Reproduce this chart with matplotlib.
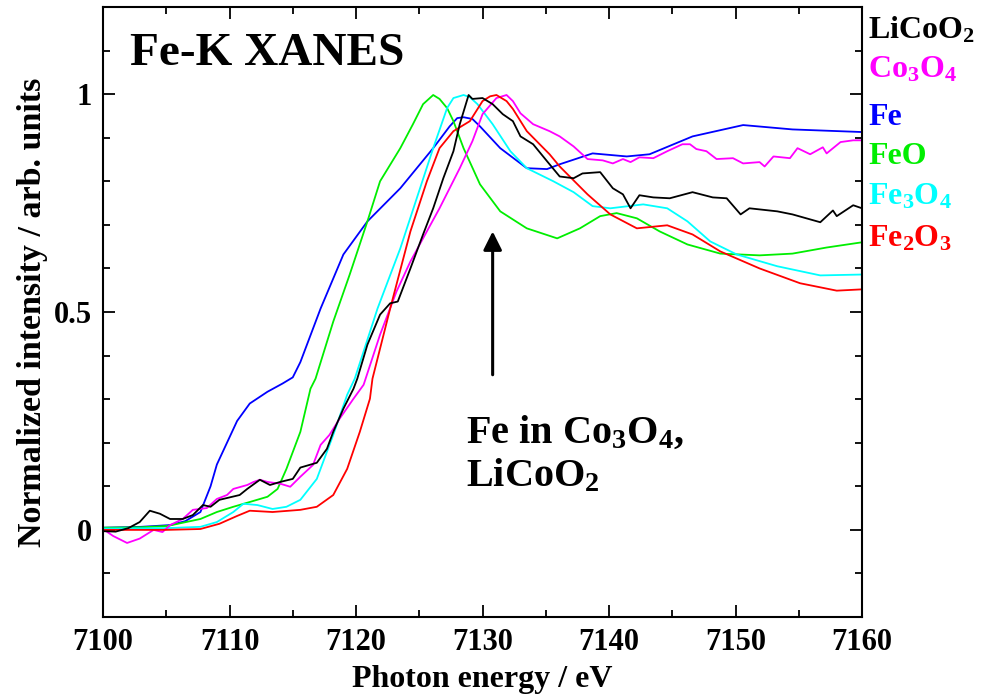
import numpy as np
import matplotlib
matplotlib.use("Agg")
import matplotlib.pyplot as plt

plt.rcParams['font.family'] = ['Liberation Serif', 'DejaVu Serif']
plt.rcParams['font.weight'] = 'bold'
plt.rcParams['axes.labelweight'] = 'bold'
plt.rcParams['mathtext.default'] = 'regular'

# photon energy (eV) / normalized intensity
e_licoo2 = [7100, 7101, 7102, 7102.9, 7103.7, 7104.5, 7105.3, 7106.3, 7107.1, 7107.9, 7108.5,
            7109.2, 7110.8, 7111.4, 7112.4, 7113.2, 7114.0, 7115.0, 7115.6, 7116.9, 7117.7,
            7118.2, 7119.0, 7119.8, 7120.1, 7120.9, 7121.9, 7122.7, 7123.3, 7124.3, 7125.3,
            7126.1, 7126.9, 7127.7, 7128.2, 7128.9, 7129.2, 7130.0, 7130.8, 7131.6, 7132.4,
            7133.0, 7134.0, 7135.1, 7136.1, 7137.2, 7137.9, 7139.3, 7140.3, 7141.1, 7141.7,
            7142.4, 7143.5, 7144.8, 7146.6, 7148.2, 7149.3, 7150.4, 7151.1, 7153.3, 7154.5,
            7156.7, 7157.7, 7158.0, 7159.3, 7160]
i_licoo2 = [-0.003, -0.004, 0.004, 0.018, 0.044, 0.037, 0.025, 0.025, 0.034, 0.057, 0.053,
            0.069, 0.080, 0.094, 0.115, 0.103, 0.110, 0.117, 0.143, 0.154, 0.186,
            0.225, 0.278, 0.324, 0.347, 0.425, 0.494, 0.520, 0.524, 0.600, 0.678,
            0.738, 0.807, 0.869, 0.931, 0.998, 0.989, 0.991, 0.977, 0.954, 0.938,
            0.903, 0.885, 0.846, 0.811, 0.807, 0.818, 0.821, 0.784, 0.770, 0.738,
            0.768, 0.763, 0.761, 0.775, 0.763, 0.761, 0.724, 0.738, 0.731, 0.724,
            0.706, 0.733, 0.720, 0.745, 0.738]

e_co3o4 = [7100, 7100.8, 7101.9, 7102.9, 7104.0, 7104.7, 7105.3, 7106.3, 7107.1, 7108.2, 7109.0,
           7109.8, 7110.3, 7111.4, 7111.9, 7112.4, 7113.0, 7114.0, 7114.8, 7115.6, 7116.6,
           7117.2, 7117.9, 7118.7, 7119.8, 7120.6, 7121.9, 7123.2, 7124.3, 7125.6, 7126.6,
           7127.4, 7128.2, 7129.2, 7130.0, 7131.1, 7131.9, 7132.4, 7133.0, 7134.0, 7135.3,
           7136.1, 7137.2, 7138.3, 7139.5, 7140.3, 7141.1, 7141.7, 7142.4, 7143.5, 7144.6,
           7145.8, 7146.4, 7146.9, 7147.7, 7148.5, 7149.8, 7150.6, 7151.9, 7152.3, 7153.0,
           7154.3, 7154.9, 7155.9, 7156.9, 7157.2, 7158.3, 7159.3, 7160]
i_co3o4 = [0.002, -0.014, -0.030, -0.020, 0.000, -0.005, 0.011, 0.025, 0.046, 0.050, 0.071,
           0.080, 0.094, 0.103, 0.110, 0.115, 0.110, 0.106, 0.099, 0.122, 0.149,
           0.195, 0.218, 0.255, 0.301, 0.333, 0.448, 0.547, 0.616, 0.685, 0.738,
           0.784, 0.830, 0.892, 0.954, 0.991, 0.998, 0.984, 0.956, 0.931, 0.915,
           0.903, 0.880, 0.851, 0.848, 0.841, 0.851, 0.844, 0.855, 0.853, 0.869,
           0.885, 0.885, 0.874, 0.869, 0.851, 0.853, 0.841, 0.844, 0.834, 0.857,
           0.853, 0.876, 0.862, 0.878, 0.864, 0.890, 0.894, 0.894]

e_fe = [7100, 7103, 7105.3, 7106.5, 7107.7, 7108.5, 7109.0, 7109.8, 7110.6, 7111.6, 7113.0,
        7114.2, 7115.0, 7115.6, 7117.2, 7119.0, 7120.9, 7123.5, 7126.1, 7127.4, 7128.0,
        7128.5, 7129.2, 7129.8, 7131.4, 7133.5, 7135.1, 7136.1, 7138.7, 7141.4, 7143.2,
        7146.6, 7150.6, 7154.5, 7160]
i_fe = [0.005, 0.007, 0.011, 0.020, 0.041, 0.100, 0.150, 0.200, 0.250, 0.290, 0.317,
        0.336, 0.350, 0.385, 0.508, 0.632, 0.708, 0.784, 0.876, 0.926, 0.945,
        0.947, 0.943, 0.926, 0.876, 0.830, 0.828, 0.839, 0.864, 0.857, 0.862,
        0.903, 0.929, 0.919, 0.913]

e_feo = [7100, 7103, 7105.1, 7107.7, 7109.0, 7110.3, 7111.6, 7113.0, 7113.8, 7114.5, 7115.6,
         7116.4, 7116.8, 7118.2, 7119.5, 7120.9, 7121.9, 7123.5, 7124.5, 7125.3, 7126.1,
         7126.6, 7127.2, 7127.7, 7128.5, 7129.8, 7131.4, 7133.5, 7135.9, 7137.7, 7139.3,
         7140.6, 7142.2, 7144.0, 7146.2, 7148.8, 7151.9, 7154.5, 7157.2, 7160]
i_feo = [0.005, 0.006, 0.009, 0.025, 0.041, 0.053, 0.064, 0.076, 0.094, 0.140, 0.225,
         0.324, 0.347, 0.478, 0.586, 0.708, 0.800, 0.876, 0.931, 0.977, 0.998,
         0.989, 0.968, 0.938, 0.876, 0.793, 0.731, 0.692, 0.669, 0.692, 0.720,
         0.727, 0.715, 0.685, 0.655, 0.634, 0.630, 0.634, 0.648, 0.660]

e_fe3o4 = [7100, 7105, 7107.7, 7109.0, 7110.3, 7111.1, 7112.2, 7113.4, 7114.5, 7115.6, 7116.9,
           7118.2, 7119.3, 7119.9, 7121.7, 7123.5, 7124.8, 7126.1, 7127.2, 7127.7, 7128.5,
           7129.0, 7129.6, 7130.8, 7132.2, 7133.5, 7135.6, 7137.2, 7138.7, 7140.1, 7142.7,
           7144.6, 7146.2, 7148.0, 7150.1, 7153.3, 7156.7, 7160]
i_fe3o4 = [0.003, 0.004, 0.007, 0.018, 0.041, 0.060, 0.057, 0.048, 0.053, 0.069, 0.117,
           0.218, 0.310, 0.347, 0.508, 0.646, 0.761, 0.876, 0.968, 0.991, 0.998,
           0.993, 0.977, 0.931, 0.869, 0.830, 0.800, 0.775, 0.743, 0.738, 0.747,
           0.738, 0.708, 0.662, 0.632, 0.605, 0.584, 0.586]

e_fe2o3 = [7100, 7105, 7107.7, 7109.2, 7110.6, 7111.6, 7113.4, 7115.6, 7116.9, 7118.2, 7119.3,
           7120.3, 7121.1, 7121.3, 7122.7, 7124.3, 7125.6, 7126.6, 7127.7, 7129.0, 7130.0,
           7130.6, 7131.1, 7131.9, 7132.4, 7133.5, 7135.3, 7136.1, 7138.3, 7140.1, 7142.2,
           7144.6, 7146.6, 7148.8, 7151.9, 7155.1, 7158.0, 7160]
i_fe2o3 = [0.000, 0.000, 0.002, 0.014, 0.032, 0.044, 0.041, 0.046, 0.053, 0.080, 0.140,
           0.225, 0.301, 0.347, 0.508, 0.685, 0.800, 0.876, 0.915, 0.938, 0.984,
           0.995, 0.998, 0.984, 0.966, 0.915, 0.862, 0.834, 0.770, 0.724, 0.692,
           0.699, 0.678, 0.639, 0.600, 0.566, 0.549, 0.552]

names = [r'LiCoO$_2$', r'Co$_3$O$_4$', 'Fe', 'FeO', r'Fe$_3$O$_4$', r'Fe$_2$O$_3$']
colors = ['black', '#ff00ff', '#0000ff', '#00ee00', '#00ffff', '#ff0000']

fig = plt.figure(figsize=(10.08, 6.98), dpi=100)
ax = fig.add_axes([0.1022, 0.116, 0.753, 0.874])

curves = [(e_licoo2, i_licoo2), (e_co3o4, i_co3o4), (e_fe, i_fe),
          (e_feo, i_feo), (e_fe3o4, i_fe3o4), (e_fe2o3, i_fe2o3)]
# draw order so black/red sit on top like the original
for k in [2, 3, 4, 1, 5, 0]:
    e, i = curves[k]
    ax.plot(e, i, color=colors[k], lw=1.3)

ax.set_xlim(7100, 7160)
ax.set_ylim(-0.2, 1.2)
ax.set_xticks(np.arange(7100, 7161, 10))
ax.set_xticks(np.arange(7105, 7160, 10), minor=True)
ax.set_yticks([0, 0.5, 1])
ax.set_yticklabels(['0', '0.5', '1'])
ax.set_yticks(np.arange(-0.1, 1.15, 0.1), minor=True)
ax.tick_params(which='both', direction='in', top=True, right=True, width=1.3)
ax.tick_params(which='major', length=8.5, labelsize=22, pad=8)
ax.tick_params(which='minor', length=5)
for s in ax.spines.values():
    s.set_linewidth(1.5)

ax.set_xlabel('Photon energy / eV', fontsize=23, fontweight='bold', labelpad=6)
ax.set_ylabel('Normalized intensity / arb. units', fontsize=24.5, fontweight='bold', labelpad=4)

ax.text(0.036, 0.905, 'Fe-K XANES', transform=ax.transAxes, fontsize=34,
        fontweight='bold', va='baseline')

# legend-like labels to the right of the frame
label_y = [0.948, 0.884, 0.807, 0.743, 0.677, 0.607]
for name, c, y in zip(names, colors, label_y):
    ax.text(1.008, y, name, transform=ax.transAxes, color=c, fontsize=23,
            fontweight='bold', va='baseline', clip_on=False)

ax.annotate('', xy=(7130.8, 0.685), xytext=(7130.8, 0.356),
            arrowprops=dict(arrowstyle='-|>', color='black', lw=2.2,
                            mutation_scale=28, shrinkA=0, shrinkB=0))
ax.text(7128.7, 0.2, r'Fe in Co$_3$O$_4$,', fontsize=29, fontweight='bold', va='baseline')
ax.text(7128.7, 0.099, r'LiCoO$_2$', fontsize=29, fontweight='bold', va='baseline')

fig.savefig('out.png', dpi=100)
